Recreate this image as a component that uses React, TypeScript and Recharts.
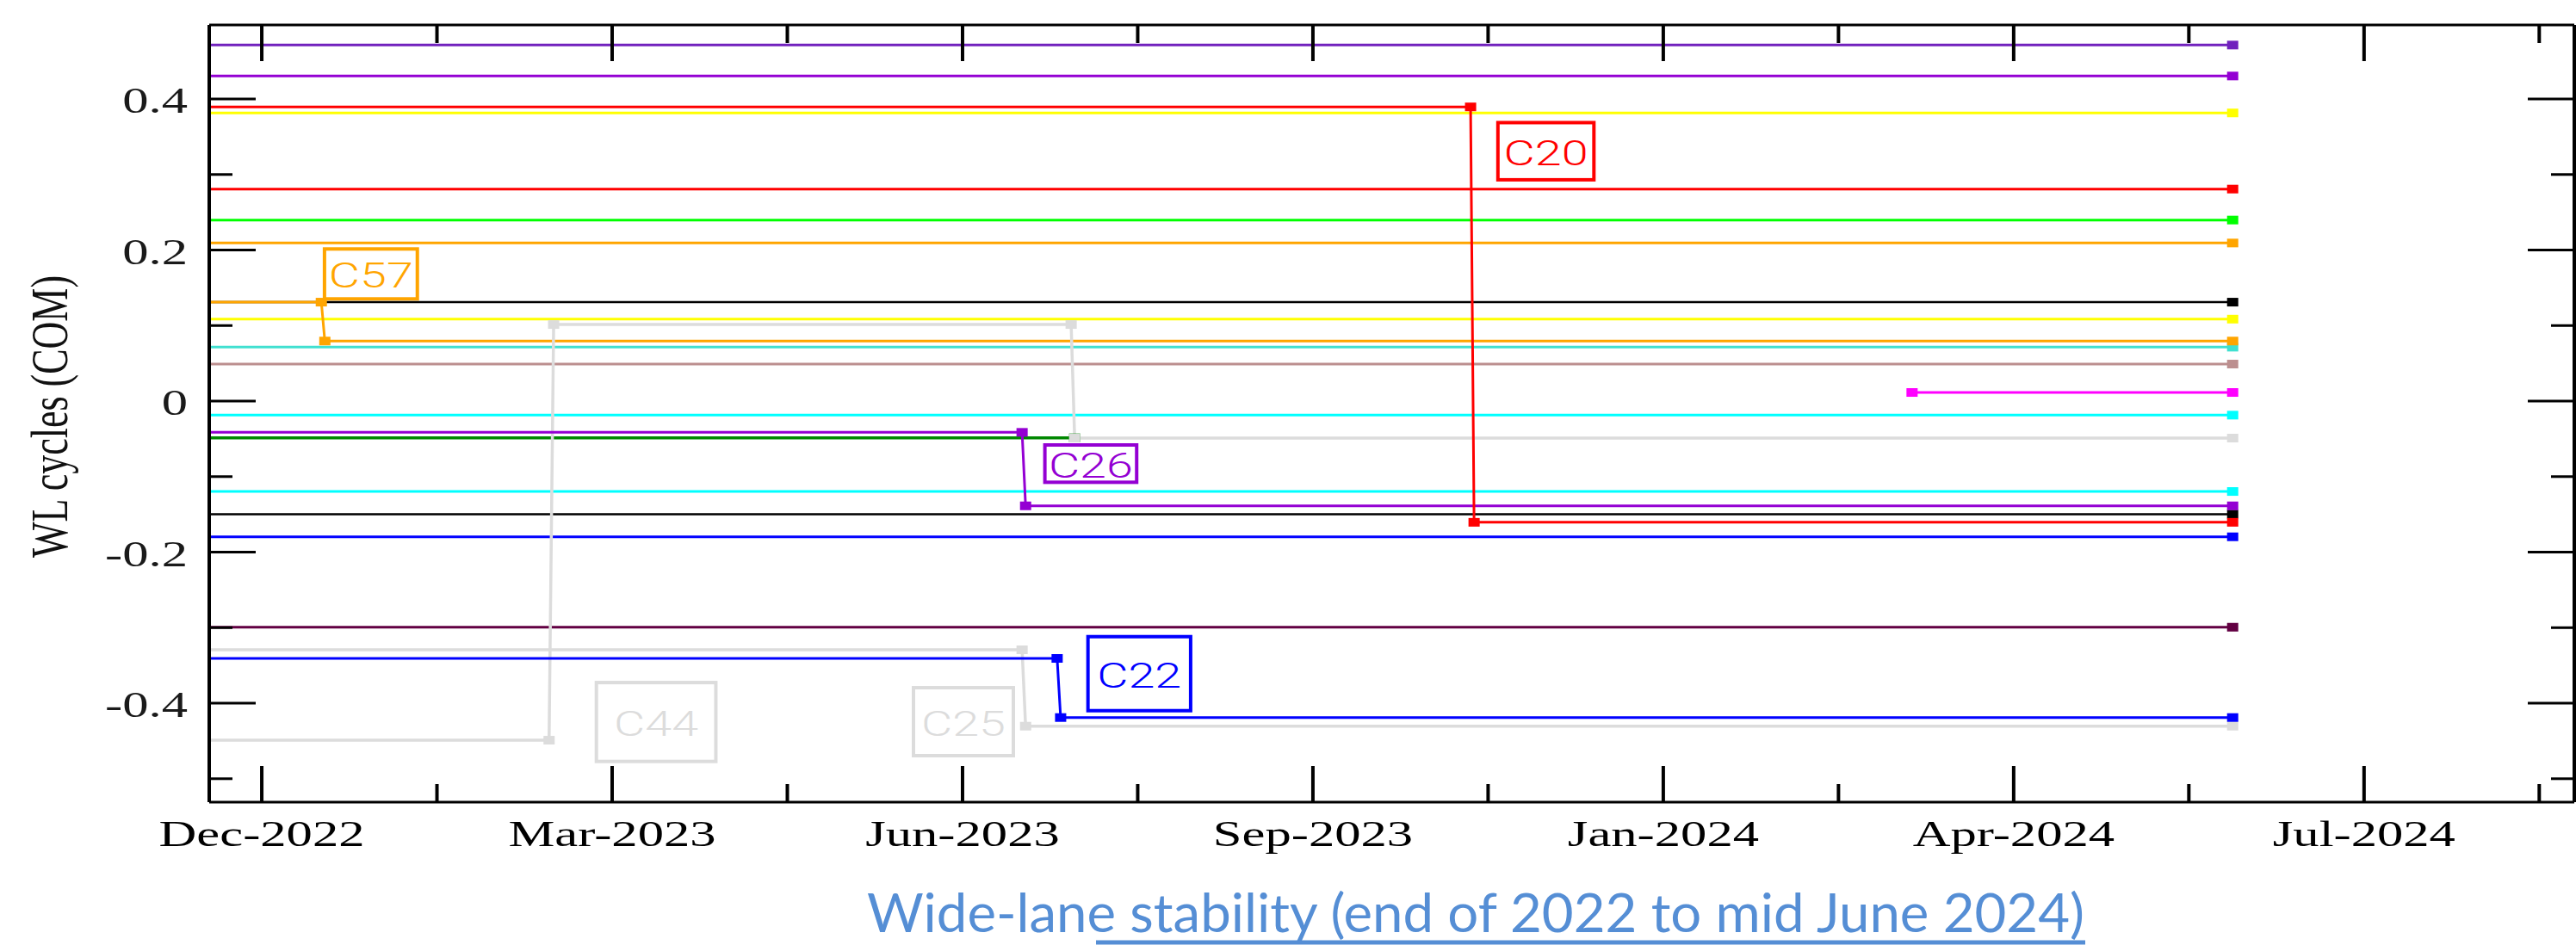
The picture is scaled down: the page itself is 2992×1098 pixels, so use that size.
import React from 'react';
import { LineChart, Line, XAxis, YAxis, ReferenceArea } from 'recharts';

// x = days since 1 Dec 2022 (Dec-2022 tick), y = WL cycles
const T_MIN = -15;
const T_MAX = 660;
const Y_MIN = -0.531;
const Y_MAX = 0.498;

const X_MAJOR = [0, 100, 200, 300, 400, 500, 600];
const X_LABELS = ['Dec-2022', 'Mar-2023', 'Jun-2023', 'Sep-2023', 'Jan-2024', 'Apr-2024', 'Jul-2024'];
const X_MINOR = [50, 150, 250, 350, 450, 550, 650];
const Y_MAJOR = [-0.4, -0.2, 0, 0.2, 0.4];
const Y_LABELS = ['-0.4', '-0.2', '0', '0.2', '0.4'];
const Y_MINOR = [-0.5, -0.3, -0.1, 0.1, 0.3];

const X_TICKS = [...X_MAJOR, ...X_MINOR].sort((a, b) => a - b);
const Y_TICKS = [...Y_MAJOR, ...Y_MINOR].sort((a, b) => a - b);

// steady satellites
const satPurple = [{ t: -15, v: 0.4714 }, { t: 562.5, v: 0.4714 }];
const satViolet1 = [{ t: -15, v: 0.4304 }, { t: 562.5, v: 0.4304 }];
const satYellow1 = [{ t: -15, v: 0.3815 }, { t: 562.5, v: 0.3815 }];
const satRed1 = [{ t: -15, v: 0.2807 }, { t: 562.5, v: 0.2807 }];
const satLime = [{ t: -15, v: 0.2397 }, { t: 562.5, v: 0.2397 }];
const satOrange1 = [{ t: -15, v: 0.2093 }, { t: 562.5, v: 0.2093 }];
const satBlack1 = [{ t: -15, v: 0.131 }, { t: 562.5, v: 0.131 }];
const satYellow2 = [{ t: -15, v: 0.1085 }, { t: 562.5, v: 0.1085 }];
const satTurquoise = [{ t: -15, v: 0.0714 }, { t: 562.5, v: 0.0714 }];
const satRosy = [{ t: -15, v: 0.049 }, { t: 562.5, v: 0.049 }];
const satMagenta = [{ t: 471, v: 0.0114 }, { t: 562.5, v: 0.0114 }];
const satCyan1 = [{ t: -15, v: -0.0186 }, { t: 562.5, v: -0.0186 }];
const satGreen = [{ t: -15, v: -0.0486 }, { t: 232, v: -0.0486 }];
const satCyan2 = [{ t: -15, v: -0.1197 }, { t: 562.5, v: -0.1197 }];
const satBlack2 = [{ t: -15, v: -0.1497 }, { t: 562.5, v: -0.1497 }];
const satBlue1 = [{ t: -15, v: -0.1797 }, { t: 562.5, v: -0.1797 }];
const satWine = [{ t: -15, v: -0.2994 }, { t: 562.5, v: -0.2994 }];

// satellites with wide-lane jumps
const satC57 = [{ t: -15, v: 0.131 }, { t: 17, v: 0.131 }, { t: 18, v: 0.0795 }, { t: 562.5, v: 0.0795 }];
const satC44 = [
  { t: -15, v: -0.449 }, { t: 82, v: -0.449 }, { t: 83.3, v: 0.1014 },
  { t: 231, v: 0.1014 }, { t: 232, v: -0.049 }, { t: 562.5, v: -0.049 },
];
const satC25 = [{ t: -15, v: -0.3293 }, { t: 217, v: -0.3293 }, { t: 218, v: -0.4304 }, { t: 562.5, v: -0.4304 }];
const satC26 = [{ t: -15, v: -0.0414 }, { t: 217, v: -0.0414 }, { t: 218, v: -0.1387 }, { t: 562.5, v: -0.1387 }];
const satC22 = [{ t: -15, v: -0.3407 }, { t: 227, v: -0.3407 }, { t: 228, v: -0.419 }, { t: 562.5, v: -0.419 }];
const satC20 = [{ t: -15, v: 0.3895 }, { t: 345, v: 0.3895 }, { t: 346, v: -0.1605 }, { t: 562.5, v: -0.1605 }];

const SERIES = [
  { id: 'purple', data: satPurple, color: '#7121BD', w: 3 },
  { id: 'violet1', data: satViolet1, color: '#9400D3', w: 3 },
  { id: 'yellow1', data: satYellow1, color: '#FFFF00', w: 3 },
  { id: 'red1', data: satRed1, color: '#FF0000', w: 3 },
  { id: 'lime', data: satLime, color: '#00FF00', w: 3 },
  { id: 'orange1', data: satOrange1, color: '#FFA500', w: 3 },
  { id: 'black1', data: satBlack1, color: '#000000', w: 2.5 },
  { id: 'yellow2', data: satYellow2, color: '#FFFF00', w: 3 },
  { id: 'turq', data: satTurquoise, color: '#40E0D0', w: 3 },
  { id: 'rosy', data: satRosy, color: '#BC8F8F', w: 3 },
  { id: 'magenta', data: satMagenta, color: '#FF00FF', w: 3 },
  { id: 'cyan1', data: satCyan1, color: '#00FFFF', w: 3 },
  { id: 'green', data: satGreen, color: '#008800', w: 3.5 },
  { id: 'cyan2', data: satCyan2, color: '#00FFFF', w: 3 },
  { id: 'black2', data: satBlack2, color: '#000000', w: 2.5 },
  { id: 'blue1', data: satBlue1, color: '#0000FF', w: 3 },
  { id: 'wine', data: satWine, color: '#620042', w: 3 },
  { id: 'C57', data: satC57, color: '#FFA500', w: 3 },
  { id: 'C44', data: satC44, color: '#DCDCDC', w: 3.5 },
  { id: 'C25', data: satC25, color: '#DCDCDC', w: 3.5 },
  { id: 'C26', data: satC26, color: '#9400D3', w: 3 },
  { id: 'C22', data: satC22, color: '#0000FF', w: 3 },
  { id: 'C20', data: satC20, color: '#FF0000', w: 3 },
];

// annotation boxes in data coordinates
const BOXES = [
  { label: 'C57', color: '#FFA500', t1: 17.9, t2: 44.4, v1: 0.2014, v2: 0.1353 },
  { label: 'C20', color: '#FF0000', t1: 352.8, t2: 380.2, v1: 0.3687, v2: 0.293 },
  { label: 'C26', color: '#9400D3', t1: 223.5, t2: 249.7, v1: -0.0581, v2: -0.1075 },
  { label: 'C22', color: '#0000FF', t1: 235.8, t2: 265.1, v1: -0.3119, v2: -0.4099 },
  { label: 'C25', color: '#DCDCDC', t1: 186.0, t2: 214.5, v1: -0.3795, v2: -0.4695 },
  { label: 'C44', color: '#DCDCDC', t1: 95.5, t2: 129.6, v1: -0.3727, v2: -0.4771 },
];

const SERIF = "'Liberation Serif', 'Times New Roman', serif";
const STRETCH = 1.41;

const makeDot = (color: string) => (p: any) => {
  const { cx, cy, payload, index } = p;
  if (cx == null || cy == null || payload.t <= T_MIN) return <g key={`e${index}`} />;
  return <rect key={`d${index}`} x={cx - 6.5} y={cy - 5} width={13} height={10} fill={color} />;
};

const xTick = (side: 'top' | 'bottom') => (p: any) => {
  const { x, y, payload } = p;
  const idx = X_MAJOR.indexOf(payload.value);
  const len = idx >= 0 ? 42 : 21;
  const dir = side === 'top' ? 1 : -1;
  return (
    <g>
      <line x1={x} y1={y} x2={x} y2={y + dir * len} stroke="#000" strokeWidth={4} />
      {side === 'bottom' && idx >= 0 && (
        <text
          transform={`translate(${x},${y + 51}) scale(${STRETCH},1)`}
          textAnchor="middle"
          fontFamily={SERIF}
          fontSize={43}
          fill="#000"
        >
          {X_LABELS[idx]}
        </text>
      )}
    </g>
  );
};

const yTick = (side: 'left' | 'right') => (p: any) => {
  const { x, y, payload } = p;
  const idx = Y_MAJOR.indexOf(payload.value);
  const len = idx >= 0 ? 54 : 27;
  const dir = side === 'left' ? 1 : -1;
  return (
    <g>
      <line x1={x} y1={y} x2={x + dir * len} y2={y} stroke="#000" strokeWidth={3} />
      {side === 'left' && idx >= 0 && (
        <text
          transform={`translate(${x - 25},${y + 16}) scale(${STRETCH},1)`}
          textAnchor="end"
          fontFamily={SERIF}
          fontSize={43}
          fill="#1a1a1a"
        >
          {Y_LABELS[idx]}
        </text>
      )}
    </g>
  );
};

const boxShape = (label: string, color: string) => (p: any) => {
  const { x, y, width, height } = p;
  return (
    <g>
      <rect x={x} y={y} width={width} height={height} fill="none" stroke={color} strokeWidth={4} />
      <text
        x={x + width / 2}
        y={y + height / 2 + 16}
        textAnchor="middle"
        fontFamily="Roboto, 'Liberation Sans', sans-serif"
        fontWeight={300}
        fontSize={40}
        fill={color}
        textLength={98}
        lengthAdjust="spacingAndGlyphs"
      >
        {label}
      </text>
    </g>
  );
};

export default function App() {
  return (
    <div style={{ position: 'absolute', left: 0, top: 0, width: 2992, height: 1098, background: '#fff' }}>
      <LineChart width={2992} height={1098} margin={{ top: 0, right: 0, bottom: 0, left: 0 }}>
        <XAxis
          xAxisId="b"
          dataKey="t"
          type="number"
          orientation="bottom"
          domain={[T_MIN, T_MAX]}
          allowDataOverflow
          ticks={X_TICKS}
          interval={0}
          height={166}
          tickLine={false}
          tickSize={0}
          tickMargin={0}
          axisLine={{ stroke: '#000', strokeWidth: 3 }}
          tick={xTick('bottom')}
        />
        <XAxis
          xAxisId="t"
          dataKey="t"
          type="number"
          orientation="top"
          domain={[T_MIN, T_MAX]}
          allowDataOverflow
          ticks={X_TICKS}
          interval={0}
          height={29}
          tickLine={false}
          tickSize={0}
          tickMargin={0}
          axisLine={{ stroke: '#000', strokeWidth: 3 }}
          tick={xTick('top')}
        />
        <YAxis
          yAxisId="l"
          type="number"
          orientation="left"
          domain={[Y_MIN, Y_MAX]}
          allowDataOverflow
          ticks={Y_TICKS}
          interval={0}
          width={243}
          tickLine={false}
          tickSize={0}
          tickMargin={0}
          axisLine={{ stroke: '#000', strokeWidth: 4 }}
          tick={yTick('left')}
        />
        <YAxis
          yAxisId="r"
          type="number"
          orientation="right"
          domain={[Y_MIN, Y_MAX]}
          allowDataOverflow
          ticks={Y_TICKS}
          interval={0}
          width={2}
          tickLine={false}
          tickSize={0}
          tickMargin={0}
          axisLine={{ stroke: '#000', strokeWidth: 4 }}
          tick={yTick('right')}
        />
        {SERIES.map((s) => (
          <Line
            key={s.id}
            xAxisId="b"
            yAxisId="l"
            data={s.data}
            dataKey="v"
            type="linear"
            stroke={s.color}
            strokeWidth={s.w}
            dot={makeDot(s.color)}
            activeDot={false}
            isAnimationActive={false}
          />
        ))}
        {BOXES.map((b) => (
          <ReferenceArea
            key={b.label}
            xAxisId="b"
            yAxisId="l"
            x1={b.t1}
            x2={b.t2}
            y1={b.v1}
            y2={b.v2}
            shape={boxShape(b.label, b.color)}
          />
        ))}
      </LineChart>
      <svg
        width={2992}
        height={1098}
        style={{ position: 'absolute', left: 0, top: 0, pointerEvents: 'none' }}
      >
        <text
          transform={`translate(78,484) scale(${STRETCH},1) rotate(-90)`}
          textAnchor="middle"
          fontFamily={SERIF}
          fontSize={44}
          fill="#111"
        >
          WL cycles (COM)
        </text>
        <text
          x={1007}
          y={1083}
          fontFamily="Lato, 'Open Sans', sans-serif"
          fontSize={62}
          fill="#558ED5"
          textLength={1414}
          lengthAdjust="spacingAndGlyphs"
        >
          Wide-lane stability (end of 2022 to mid June 2024)
        </text>
        <line x1={1273} y1={1095} x2={2422} y2={1095} stroke="#558ED5" strokeWidth={5} />
      </svg>
    </div>
  );
}
